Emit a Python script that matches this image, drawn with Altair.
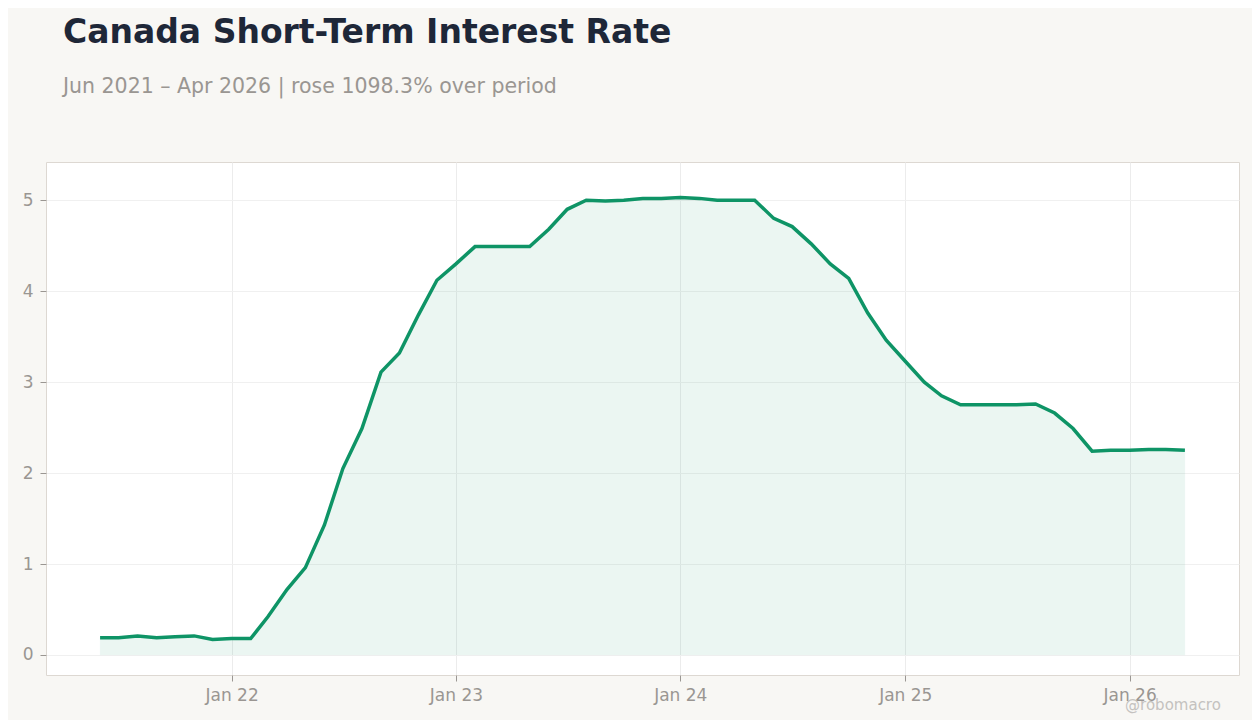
import altair as alt
import pandas as pd

months = pd.date_range("2021-06-01", "2026-04-01", freq="MS").strftime("%Y-%m-%d").tolist()
rates = [
    0.19, 0.19, 0.21, 0.19, 0.20, 0.21, 0.17,
    0.18, 0.18, 0.42, 0.72, 0.96, 1.43, 2.05, 2.49, 3.11, 3.32, 3.74, 4.12,
    4.30, 4.49, 4.49, 4.49, 4.49, 4.68, 4.90, 5.00, 4.99, 5.00, 5.02, 5.02,
    5.03, 5.02, 5.00, 5.00, 5.00, 4.80, 4.71, 4.52, 4.30, 4.14, 3.76, 3.46,
    3.23, 3.00, 2.85, 2.75, 2.75, 2.75, 2.75, 2.76, 2.66, 2.49, 2.24, 2.25,
    2.25, 2.26, 2.26, 2.25,
]
tick_dates = ["2022-01-01", "2023-01-01", "2024-01-01", "2025-01-01", "2026-01-01"]

df = pd.DataFrame({"date": months, "rate": rates})

GREEN = "#0e9466"

x = alt.X(
    "date:T",
    scale=alt.Scale(domain=["2021-03-05", "2026-06-28"], nice=False),
    axis=alt.Axis(
        values=tick_dates, format="%b %y", title=None,
        labelFontSize=17, labelColor="#9a9692", labelPadding=6,
        tickColor="#9a9692", tickSize=6, grid=True, gridColor="#ececec",
        domain=False, labelFont="DejaVu Sans",
    ),
)
y = alt.Y(
    "rate:Q",
    scale=alt.Scale(domain=[-0.22, 5.42], nice=False, zero=False),
    axis=alt.Axis(
        values=[0, 1, 2, 3, 4, 5], title=None,
        labelFontSize=17, labelColor="#9a9692", labelPadding=7,
        tickColor="#9a9692", tickSize=6, grid=True, gridColor="#f0f0f0",
        domain=False, labelFont="DejaVu Sans",
    ),
)

base = alt.Chart(df)
area = base.mark_area(color=GREEN, opacity=0.08, stroke=GREEN, strokeOpacity=0.15, strokeWidth=1).encode(
    x=x, y=y, y2=alt.datum(0)
)
line = base.mark_line(color=GREEN, strokeWidth=3.5).encode(x=x, y=y)

wm = alt.Chart(pd.DataFrame({"t": ["@robomacro"]})).mark_text(
    align="center", baseline="middle", fontSize=15, color="#c4c2bf", font="DejaVu Sans"
).encode(x=alt.value(1127), y=alt.value(543), text="t:N")

chart = alt.layer(area, line, wm).properties(
    width=1193, height=513,
    autosize=alt.AutoSizeParams(type="none"),
    padding={"left": 38, "top": 154, "right": 13, "bottom": 45},
    background="#f8f7f4",
    title=alt.TitleParams(
        text="Canada Short-Term Interest Rate",
        subtitle="Jun 2021 – Apr 2026 | rose 1098.3% over period",
        anchor="start", frame="group", dx=17, offset=65,
        font="DejaVu Sans", fontSize=33, fontWeight="bold", color="#1e2738",
        subtitleFont="DejaVu Sans", subtitleFontSize=20.5, subtitleColor="#9a9692",
        subtitlePadding=27,
    ),
).configure_view(fill="white", stroke="#ddd8d2", strokeWidth=1)

chart.save("out.html", embed_options={"renderer": "svg", "actions": False})
